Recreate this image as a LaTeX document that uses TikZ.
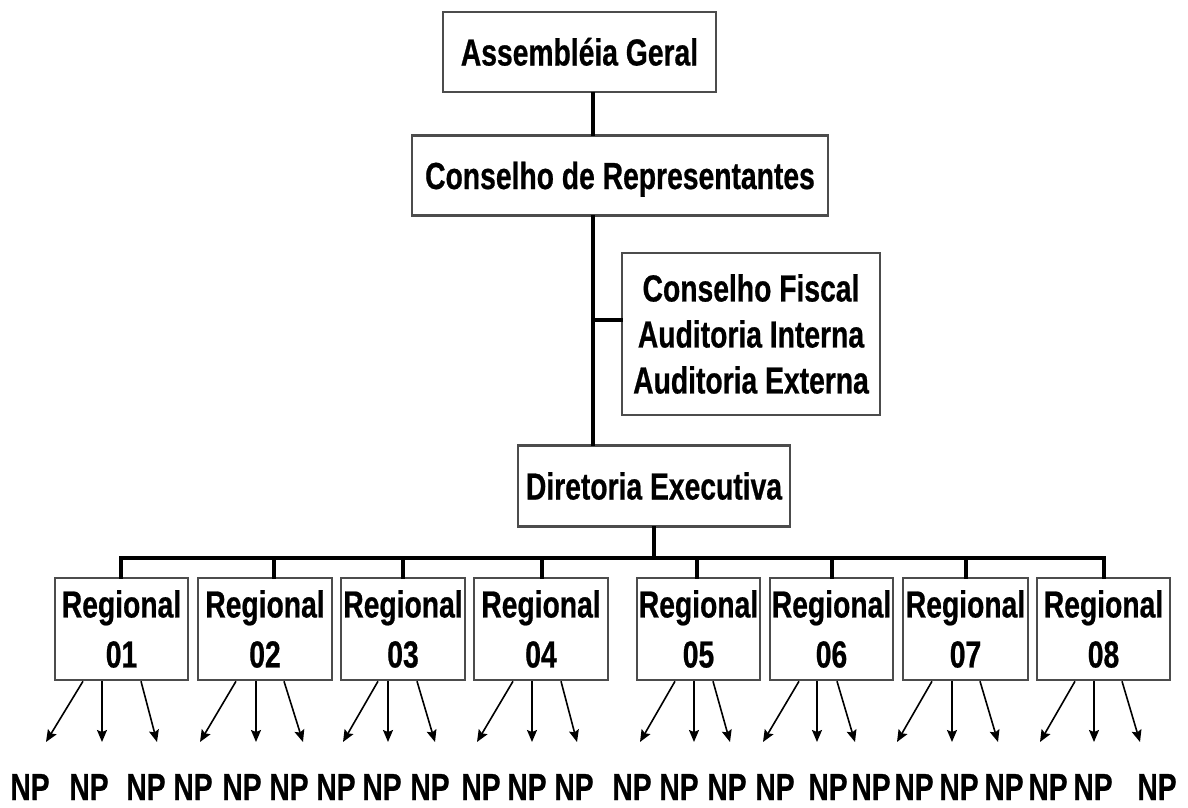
\documentclass[tikz,border=0pt]{standalone}
\usepackage{fontspec}
\newfontfamily\orgfont{Liberation Sans}[FakeStretch=0.75, FakeBold=0.6]
\usetikzlibrary{arrows.meta,positioning}
\tikzset{
  orgbox/.style={draw=black!70, line width=2.5pt, fill=white, inner sep=0pt, align=center,
    font=\orgfont\bfseries\fontsize{37.7}{48}\selectfont, minimum height=80pt},
  linebox/.style={orgbox, text height=27pt, text depth=0pt},
  auditbox/.style={orgbox, font=\orgfont\bfseries\fontsize{37.7}{46}\selectfont},
  regbox/.style={orgbox, font=\orgfont\bfseries\fontsize{37.7}{50}\selectfont, minimum height=102pt},
  link/.style={line width=3.5pt, draw=black, line cap=rect},
  arr/.style={-{Stealth[length=12pt,width=10pt,inset=2pt]}, line width=1.6pt, draw=black},
  nplabel/.style={inner sep=0pt, anchor=base, font=\orgfont\bfseries\fontsize{37.7}{48}\selectfont}
}
\begin{document}
\begin{tikzpicture}[x=1pt, y=-1pt]
  \useasboundingbox (0,0) rectangle (1188,807);
  \node[linebox, minimum width=273pt] (assembly) at (579.5,52) {Assembléia Geral};
  \node[linebox, minimum width=416pt, below=41pt of assembly, xshift=40.5pt] (council) {Conselho de Representantes};
  \node[auditbox, minimum width=258pt, minimum height=162pt] (audit) at (751,334) {Conselho Fiscal\\Auditoria Interna\\Auditoria Externa};
  \node[linebox, minimum width=272pt, minimum height=81pt, below=28pt of audit, xshift=-97pt] (board) {Diretoria Executiva};
  \coordinate (spine) at (593,0);
  \coordinate (branch) at ([yshift=14pt]audit.west);
  \draw[link] (spine |- assembly.south) -- (spine |- council.north);
  \draw[link] (spine |- council.south) -- (spine |- board.north);
  \draw[link] (spine |- branch) -- (branch);
  \foreach \i/\c/\w/\d in {1/121.5/133/121, 2/265/134/274, 3/403/124/403, 4/541/134/542,
      5/698.5/123/697, 6/831.5/123/832, 7/965.5/125/966, 8/1103.5/133/1104}{
    \node[regbox, minimum width=\w pt] (reg\i) at (\c,629) {Regional\\0\i};
    \coordinate (drop\i) at (\d,558);
    \draw[link] (drop\i) -- (drop\i |- reg\i.north);
  }
  \draw[link] (drop1) -- (drop8);
  \draw[link] (board.south) -- (board.south |- drop1);
  \foreach \i/\a/\b/\m/\p/\q in {1/83/46/102/141/157, 2/236/200/256/284/303, 3/378/343/388/417/435,
      4/513/477/532/561/577, 5/675/640/694/713/730, 6/799/763/817/837/855,
      7/932/897/952/980/998, 8/1075/1040/1094/1122/1140}{
    \coordinate (tip\i-1) at (\b,742);
    \coordinate (tip\i-2) at (\m,742);
    \coordinate (tip\i-3) at (\q,742);
    \draw[arr] (\a,0 |- reg\i.south) -- (tip\i-1);
    \draw[arr] (tip\i-2 |- reg\i.south) -- (tip\i-2);
    \draw[arr] (\p,0 |- reg\i.south) -- (tip\i-3);
  }
  \foreach \x [count=\n] in {30,89,146,193,242,289,336,382,430,481,527,574,
      632,679,727,775,828,871,914,959,1004,1048,1093,1157}
    \node[nplabel] (np\n) at (\x,800) {NP};
\end{tikzpicture}
\end{document}
